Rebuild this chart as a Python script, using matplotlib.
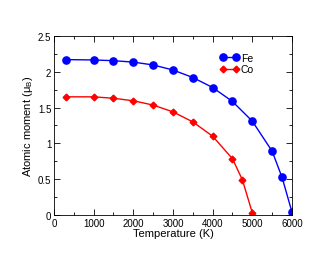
import matplotlib
matplotlib.use("Agg")
import matplotlib.pyplot as plt
from matplotlib.ticker import MultipleLocator

plt.rcParams["font.family"] = ["Liberation Sans", "DejaVu Sans"]

# Fe
fe_temp = [300, 1000, 1500, 2000, 2500, 3000, 3500, 4000, 4500, 5000, 5500, 5750, 6000]
fe_moment = [2.17, 2.165, 2.155, 2.135, 2.095, 2.025, 1.92, 1.78, 1.585, 1.31, 0.89, 0.525, 0.04]

# Co
co_temp = [300, 1000, 1500, 2000, 2500, 3000, 3500, 4000, 4500, 4750, 5000]
co_moment = [1.65, 1.65, 1.63, 1.595, 1.535, 1.44, 1.30, 1.10, 0.785, 0.49, 0.03]

fig = plt.figure(figsize=(3.3, 2.55), dpi=100)
ax = fig.add_axes([0.1636, 0.153, 0.7212, 0.702])

ax.plot(fe_temp, fe_moment, color="#0000ff", marker="o", markersize=5.2, lw=1.0, label="Fe")
ax.plot(co_temp, co_moment, color="#ff0000", marker="D", markersize=3.4, lw=1.0, label="Co")

ax.set_xlim(0, 6000)
ax.set_ylim(0, 2.5)
ax.xaxis.set_major_locator(MultipleLocator(1000))
ax.xaxis.set_minor_locator(MultipleLocator(500))
ax.yaxis.set_major_locator(MultipleLocator(0.5))
ax.yaxis.set_minor_locator(MultipleLocator(0.25))
ax.yaxis.set_major_formatter(plt.FuncFormatter(lambda v, p: f"{v:g}"))

ax.tick_params(which="both", direction="in", top=True, right=True, labelsize=7, width=0.6)
ax.tick_params(which="major", length=4, pad=2)
ax.tick_params(which="minor", length=2)
for s in ax.spines.values():
    s.set_linewidth(0.6)

ax.set_xlabel("Temperature (K)", fontsize=8, labelpad=0)
ax.set_ylabel("Atomic moment (\u03bc$_\\mathregular{B}$)", fontsize=8, labelpad=2)

ax.legend(loc="upper left", bbox_to_anchor=(0.68, 0.93), frameon=False, fontsize=7.5,
          handlelength=1.8, handletextpad=0.2, labelspacing=0.15, numpoints=2, borderaxespad=0)

fig.savefig("out.png", dpi=100)
